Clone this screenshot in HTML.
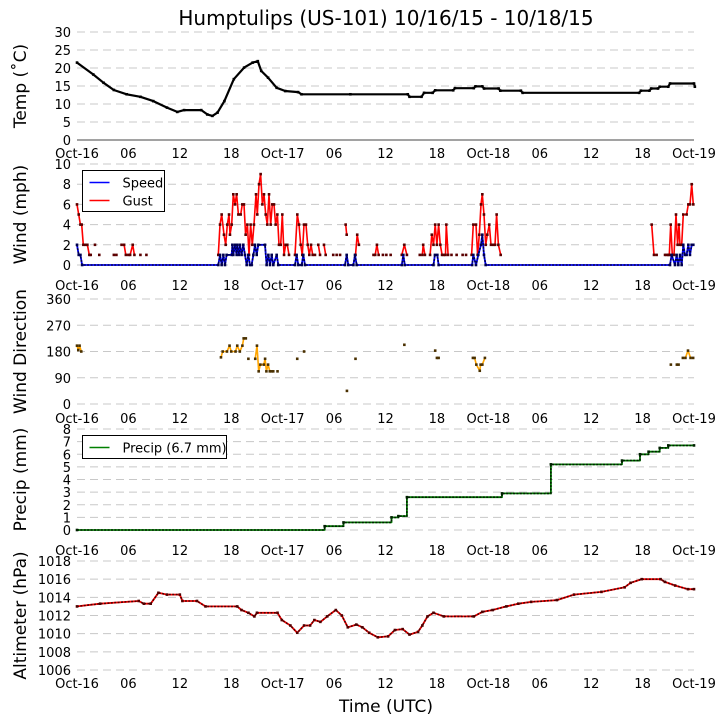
<!DOCTYPE html>
<html><head><meta charset="utf-8"><style>
html,body{margin:0;padding:0;background:#fff;}
svg{display:block;font-family:"DejaVu Sans","Liberation Sans",sans-serif;}
</style></head><body>
<svg id="chart" width="725" height="725" viewBox="0 0 725 725">
<text x="386" y="25" font-size="20" text-anchor="middle">Humptulips (US-101) 10/16/15 - 10/18/15</text>
<text x="386" y="712" font-size="17" text-anchor="middle">Time (UTC)</text>
</svg>
<script>
// ---- data ----
const xTickHours = [0,6,12,18,24,30,36,42,48,54,60,66,72];
const xTickLabels = ["Oct-16","06","12","18","Oct-17","06","12","18","Oct-18","06","12","18","Oct-19"];
const tempTicks = [0,5,10,15,20,25,30];
const windTicks = [0,2,4,6,8,10];
const dirTicks = [0,90,180,270,360];
const precipTicks = [0,1,2,3,4,5,6,7,8];
const altTicks = [1006,1008,1010,1012,1014,1016,1018];

const tempH = [0,1.9,3.1,4.3,5.8,7.4,8.9,10.5,11.7,12.5,14.5,15.2,15.8,16.4,17.2,18.3,19.5,20.5,21.1,21.5,22.3,23.3,24.3,25.8,26.2,31.9,38.6,38.8,40.2,40.5,41.5,41.8,43.9,44.1,46.3,46.5,47.3,47.5,49.2,49.4,51.8,52,65.6,65.8,66.8,67,67.8,68,69,69.2,72,72.1];
const tempV = [21.5,18.2,15.9,13.9,12.7,12.0,10.8,9.0,7.8,8.3,8.3,7.1,6.7,7.6,10.8,16.9,20.1,21.5,21.9,19.2,17.3,14.5,13.6,13.3,12.7,12.7,12.7,12.0,12.0,13.1,13.1,13.8,13.8,14.4,14.4,14.9,14.9,14.3,14.3,13.7,13.7,13.1,13.1,13.7,13.7,14.3,14.3,14.8,14.8,15.7,15.7,14.8];

const speedH = [0,0.2,0.4,0.6,16.49,16.69,16.88,17.08,17.27,17.46,18.05,18.13,18.24,18.44,18.63,18.71,18.90,19.02,19.21,19.41,19.60,19.80,19.99,20.19,20.38,20.58,20.77,20.97,21.16,21.94,22.13,22.33,22.52,22.72,22.91,23.30,23.49,25.44,25.63,25.83,26.22,26.41,26.61,31.27,31.47,31.66,32.25,32.44,32.64,37.9,38.08,38.25,41.6,41.77,42.05,42.2,46.1,46.25,46.56,46.83,47.14,47.30,47.49,47.69,69.2,69.39,69.78,69.97,70.17,70.37,70.56,70.75,70.95,71.14,71.34,71.53,71.73,71.92];
const speedV = [2,1,1,0,0,1,0,1,0,1,1,2,1,2,1,2,1,2,1,2,1,0,1,0,0,1,2,1,2,2,0,1,0,1,0,1,0,0,1,0,0,1,0,0,1,0,0,1,0,0,1,0,0,1,1,0,0,1,0,1,2,3,1,0,0,1,0,1,0,1,0,2,1,1,2,1,2,2];

const gustH = [0,0.2,0.4,0.55,0.74,1.0,1.21,1.44,1.6,null,2.1,null,2.6,null,4.3,4.6,null,5.2,5.5,5.7,6.0,6.2,6.5,6.7,null,7.4,null,8.1,null,
16.49,16.69,16.88,17.15,17.35,17.54,17.74,17.85,18.05,18.24,18.44,18.63,18.83,19.10,19.29,19.49,19.68,19.88,20.07,20.26,20.46,20.65,20.89,21.04,21.24,21.43,21.63,21.82,22.02,22.21,22.41,22.60,22.79,22.99,23.18,23.38,23.57,23.77,23.96,24.16,24.35,24.54,24.74,null,
25.44,25.71,25.91,26.10,26.29,26.49,26.72,26.92,27.11,27.31,27.50,27.77,null,28.16,28.36,null,28.82,29.02,null,29.9,null,30.3,null,30.7,null,31.35,31.47,null,32.5,32.7,32.9,null,
34.6,34.8,35.0,35.2,null,35.7,null,36.1,null,36.6,null,37.9,38.2,38.5,null,40.0,null,40.3,40.4,40.6,null,
41.2,41.4,41.6,41.8,42.0,42.2,42.4,42.6,42.8,43.0,43.1,43.3,null,43.7,null,44.3,null,45.0,null,45.4,null,
46.05,46.25,46.56,46.75,46.95,47.14,47.30,47.49,47.69,47.88,48.11,48.31,48.58,48.78,48.97,49.17,49.44,null,
67.06,67.33,67.64,null,68.62,68.81,69.0,69.12,69.28,69.47,69.67,69.90,70.09,70.25,70.37,70.56,70.75,71.14,71.34,71.53,71.73,71.92];
const gustV = [6,5,4,4,2,2,2,1,1,null,2,null,1,null,1,1,null,2,2,1,1,1,2,1,null,1,null,1,null,
1,4,5,3,2,4,5,3,4,7,6,7,5,5,6,6,3,4,1,4,2,4,7,5,8,9,6,7,5,4,7,4,6,6,4,5,2,2,5,1,2,2,1,null,
1,5,4,2,1,4,4,2,1,2,1,1,null,2,1,null,2,1,null,1,null,1,null,1,null,4,3,null,1,3,2,null,
1,1,2,1,null,1,null,1,null,1,null,1,2,1,null,1,null,1,2,1,null,
1,3,2,4,2,4,2,1,1,1,4,1,null,1,null,1,null,1,null,1,null,
1,4,4,1,3,6,7,5,2,3,4,2,2,2,5,2,1,null,
4,1,1,null,1,1,1,1,4,1,1,5,2,4,2,2,5,5,6,6,8,6];

const dirH = [0,0.15,0.3,0.5,null,16.8,17.0,17.5,17.8,18.0,18.5,18.7,19.0,19.3,19.45,19.7,null,20.0,null,20.8,21.0,21.2,21.4,21.8,21.95,22.1,22.3,22.5,22.7,null,22.9,null,23.4,null,25.7,null,26.5,null,31.5,null,32.5,null,38.2,null,41.8,null,42.0,42.2,null,46.2,46.4,46.6,47.0,47.1,47.3,47.6,null,69.3,null,70.0,70.2,null,70.7,71.0,71.3,71.6,71.9];
const dirV = [200,185,200,180,null,160,180,180,200,180,180,200,180,200,225,225,null,155,null,155,200,112,135,135,155,112,135,112,112,null,112,null,112,null,155,null,180,null,45,null,155,null,203,null,183,null,158,158,null,158,158,135,114,135,135,158,null,135,null,135,135,null,158,158,183,158,158];

const precipH = [0,28.9,31.1,36.7,37.5,38.5,49.6,55.3,63.6,65.7,66.7,68,69,72];
const precipV = [0,0.3,0.6,1.0,1.1,2.6,2.9,5.2,5.5,6.0,6.2,6.5,6.7,6.7];

const altH = [0,2.7,7.2,7.8,8.6,9.5,10.5,12,12.3,14,15,18.7,19.2,20,20.7,21,23.4,23.9,24.9,25.7,26.5,27.2,27.7,28.4,29.2,30.2,30.9,31.6,32.6,33.3,34.1,35.1,36.3,37.1,38,38.8,39.8,40.3,40.9,41.6,42.8,46.3,47.3,48.5,50.1,51.5,53,56,58,61.2,63.9,64.6,65.9,68.1,68.6,69.8,71.3,72];
const altV = [1013.0,1013.3,1013.6,1013.3,1013.3,1014.5,1014.3,1014.3,1013.6,1013.6,1013.0,1013.0,1012.6,1012.3,1011.9,1012.3,1012.3,1011.5,1010.9,1010.1,1010.9,1010.9,1011.5,1011.3,1011.9,1012.6,1012.0,1010.7,1011.0,1010.7,1010.1,1009.6,1009.7,1010.4,1010.5,1009.9,1010.2,1010.9,1011.9,1012.3,1011.9,1011.9,1012.4,1012.6,1013.0,1013.3,1013.5,1013.7,1014.3,1014.6,1015.1,1015.6,1016.0,1016.0,1015.7,1015.3,1014.9,1014.9];

// ---- drawing ----
const svg = document.getElementById('chart');
const NS = 'http://www.w3.org/2000/svg';
const X0 = 77, X1 = 694;
function xs(h){ return X0 + (X1 - X0) * h / 72; }
function mk(tag, attrs){ const e = document.createElementNS(NS, tag); for (const k in attrs) e.setAttribute(k, attrs[k]); svg.appendChild(e); return e; }

const panels = [
  {key:'temp', ticks:tempTicks, min:0, max:30, yMin:140, yMax:32, title:'Temp (\u02daC)', tlabY:158, solidBase:true},
  {key:'wind', ticks:windTicks, min:0, max:10, yMin:265, yMax:164, title:'Wind (mph)', tlabY:290},
  {key:'dir', ticks:dirTicks, min:0, max:360, yMin:404, yMax:299, title:'Wind Direction', tlabY:423},
  {key:'precip', ticks:precipTicks, min:0, max:8, yMin:530, yMax:429, title:'Precip (mm)', tlabY:555},
  {key:'alt', ticks:altTicks, min:1006, max:1018, yMin:670, yMax:561, title:'Altimeter (hPa)', tlabY:688}
];
panels.forEach(p => { p.ys = v => p.yMin + (p.yMax - p.yMin) * (v - p.min) / (p.max - p.min); });

panels.forEach(p => {
  p.ticks.forEach((t, i) => {
    const y = p.ys(t);
    const solid = p.solidBase && i === 0;
    const g = mk('line', {x1:X0, x2:X1, y1:y, y2:y, stroke: solid ? '#444' : '#c8c8c8', 'stroke-width':1, 'stroke-dasharray': solid ? 'none' : '8,5'});
    
    
    const tl = mk('text', {x:71, y:y + 5, 'font-size':13, 'text-anchor':'end'});
    tl.textContent = String(t);
    
    
  });
  xTickHours.forEach((h, i) => {
    const tl = mk('text', {x:xs(h), y:p.tlabY, 'font-size':13, 'text-anchor':'middle'});
    tl.textContent = xTickLabels[i];
    
    
  });
  const cy = (p.yMin + p.yMax) / 2;
  const yt = mk('text', {x:0, y:0, 'font-size':17, 'text-anchor':'middle', transform:'translate(26,' + cy + ') rotate(-90)'});
  yt.textContent = p.title;
  
  
});

function series(p, H, V, color, name, stepAfter, markerColor, overlay, width){
  let segs = [], cur = [];
  for (let i = 0; i < H.length; i++){
    if (H[i] === null || V[i] === null){ if (cur.length) segs.push(cur); cur = []; continue; }
    cur.push([xs(H[i]), p.ys(V[i])]);
  }
  if (cur.length) segs.push(cur);
  segs.forEach(s => {
    let pts = [];
    s.forEach((pt, i) => {
      if (stepAfter && i > 0) pts.push([pt[0], s[i-1][1]]);
      pts.push(pt);
    });
    if (pts.length > 1){
      const ptsStr = pts.map(q => q[0].toFixed(1) + ',' + q[1].toFixed(1)).join(' ');
      const pl = mk('polyline', {points: ptsStr, fill:'none', stroke:color, 'stroke-width':width, 'stroke-linejoin':'round'});
      
      
      if (overlay){
        const ov = mk('polyline', {points: ptsStr, fill:'none', stroke:markerColor, 'stroke-width':width * 0.9, 'stroke-dasharray':'2,1.4'});
        
        
      }
    }
    s.forEach(pt => {
      const r = mk('rect', {x:pt[0] - 1.3, y:pt[1] - 1.3, width:2.6, height:2.6, fill:markerColor});
      
      
    });
  });
}
series(panels[0], tempH, tempV, '#000', 'temp', false, '#000', false, 2.2);
series(panels[1], gustH, gustV, '#ff0000', 'gust', false, '#5a0000', false, 1.6);
series(panels[1], speedH, speedV, '#0000ff', 'speed', false, '#000050', true, 1.8);
series(panels[2], dirH, dirV, '#ffa500', 'wind-direction', false, '#4a3000', false, 1.6);
series(panels[3], precipH, precipV, '#008000', 'precip', true, '#002000', true, 1.8);
series(panels[4], altH, altV, '#ff0000', 'altimeter', false, '#500000', true, 1.8);

function legend(x, y, w, h, items, name){
  const b = mk('rect', {x:x, y:y, width:w, height:h, fill:'#fff', stroke:'#000', 'stroke-width':1});
  
  
  items.forEach((it, i) => {
    const ly = y + 12 + i * 18;
    const l = mk('line', {x1:x + 7, x2:x + 27, y1:ly, y2:ly, stroke:it.c, 'stroke-width':1.6});
    
    
    const t = mk('text', {x:x + 40, y:ly + 5, 'font-size':13});
    t.textContent = it.t;
    
    
  });
}
legend(82.5, 170.5, 82, 41, [{c:'#0000ff', t:'Speed'}, {c:'#ff0000', t:'Gust'}], 'wind-legend');
legend(82.5, 435.5, 144, 23, [{c:'#008000', t:'Precip (6.7 mm)'}], 'precip-legend');
</script>
</body></html>
